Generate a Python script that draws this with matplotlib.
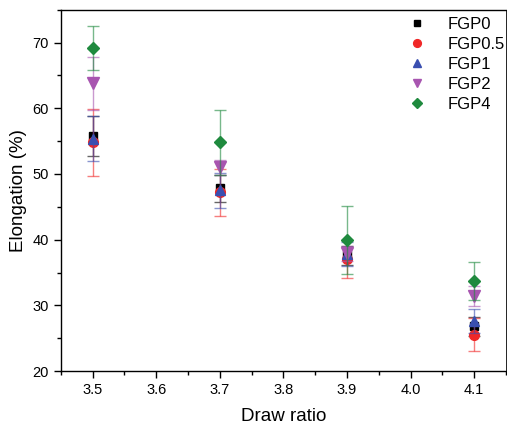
import numpy as np
import matplotlib.pyplot as plt
from matplotlib.ticker import MultipleLocator

plt.rcParams['font.family'] = ['Liberation Sans', 'DejaVu Sans']

# Elongation vs draw ratio for each fibre grade
draw_ratio = [3.5, 3.7, 3.9, 4.1]
series = ['FGP0', 'FGP0.5', 'FGP1', 'FGP2', 'FGP4']
fgp0 = [55.8, 47.8, 37.6, 26.8]
fgp0_err = [3.0, 2.0, 1.5, 1.5]
fgp05 = [54.8, 47.2, 37.1, 25.5]
fgp05_err = [5.1, 3.6, 2.9, 2.5]
fgp1 = [55.4, 47.5, 37.8, 27.6]
fgp1_err = [3.4, 2.7, 1.8, 1.8]
fgp2 = [63.8, 51.0, 37.9, 31.4]
fgp2_err = [4.0, 1.2, 1.2, 1.5]
fgp4 = [69.2, 54.8, 40.0, 33.7]
fgp4_err = [3.4, 5.0, 5.2, 2.9]

values = [fgp0, fgp05, fgp1, fgp2, fgp4]
errors = [fgp0_err, fgp05_err, fgp1_err, fgp2_err, fgp4_err]
colors = ['black', '#f02828', '#3a4fb0', '#a855b0', '#1f8a3e']
markers = ['s', 'o', '^', 'v', 'D']
sizes = [6, 7, 7, 8, 6]

fig = plt.figure(figsize=(5.07, 4.25), dpi=100)
ax = fig.add_axes([0.12, 0.127, 0.878, 0.85])

for name, y, e, c, m, s in zip(series, values, errors, colors, markers, sizes):
    ax.errorbar(draw_ratio, y, yerr=e, fmt='none', ecolor=c, alpha=0.6,
                elinewidth=1, capsize=4, capthick=1)
    ax.plot(draw_ratio, y, linestyle='none', marker=m, markersize=s,
            color=c, label=name)

ax.set_xlim(3.45, 4.15)
ax.set_ylim(20, 75)
ax.xaxis.set_major_locator(MultipleLocator(0.1))
ax.xaxis.set_minor_locator(MultipleLocator(0.05))
ax.yaxis.set_major_locator(MultipleLocator(10))
ax.yaxis.set_minor_locator(MultipleLocator(5))
ax.xaxis.set_major_formatter(plt.FormatStrFormatter('%.1f'))
ax.tick_params(which='both', direction='out', labelsize=10.5, width=1)
ax.tick_params(which='major', length=5)
ax.tick_params(which='minor', length=3)
for sp in ax.spines.values():
    sp.set_linewidth(1)
ax.spines['right'].set_linewidth(0.6)

ax.set_xlabel('Draw ratio', fontsize=13.5, labelpad=8)
ax.set_ylabel('Elongation (%)', fontsize=13.5)

ax.legend(loc='upper right', bbox_to_anchor=(1.008, 0.995), frameon=False,
          fontsize=12, handletextpad=1.3, labelspacing=0.3,
          borderaxespad=0.0, borderpad=0.3, handlelength=1.0,
          markerscale=0.8)

fig.savefig('out.png', dpi=100)
